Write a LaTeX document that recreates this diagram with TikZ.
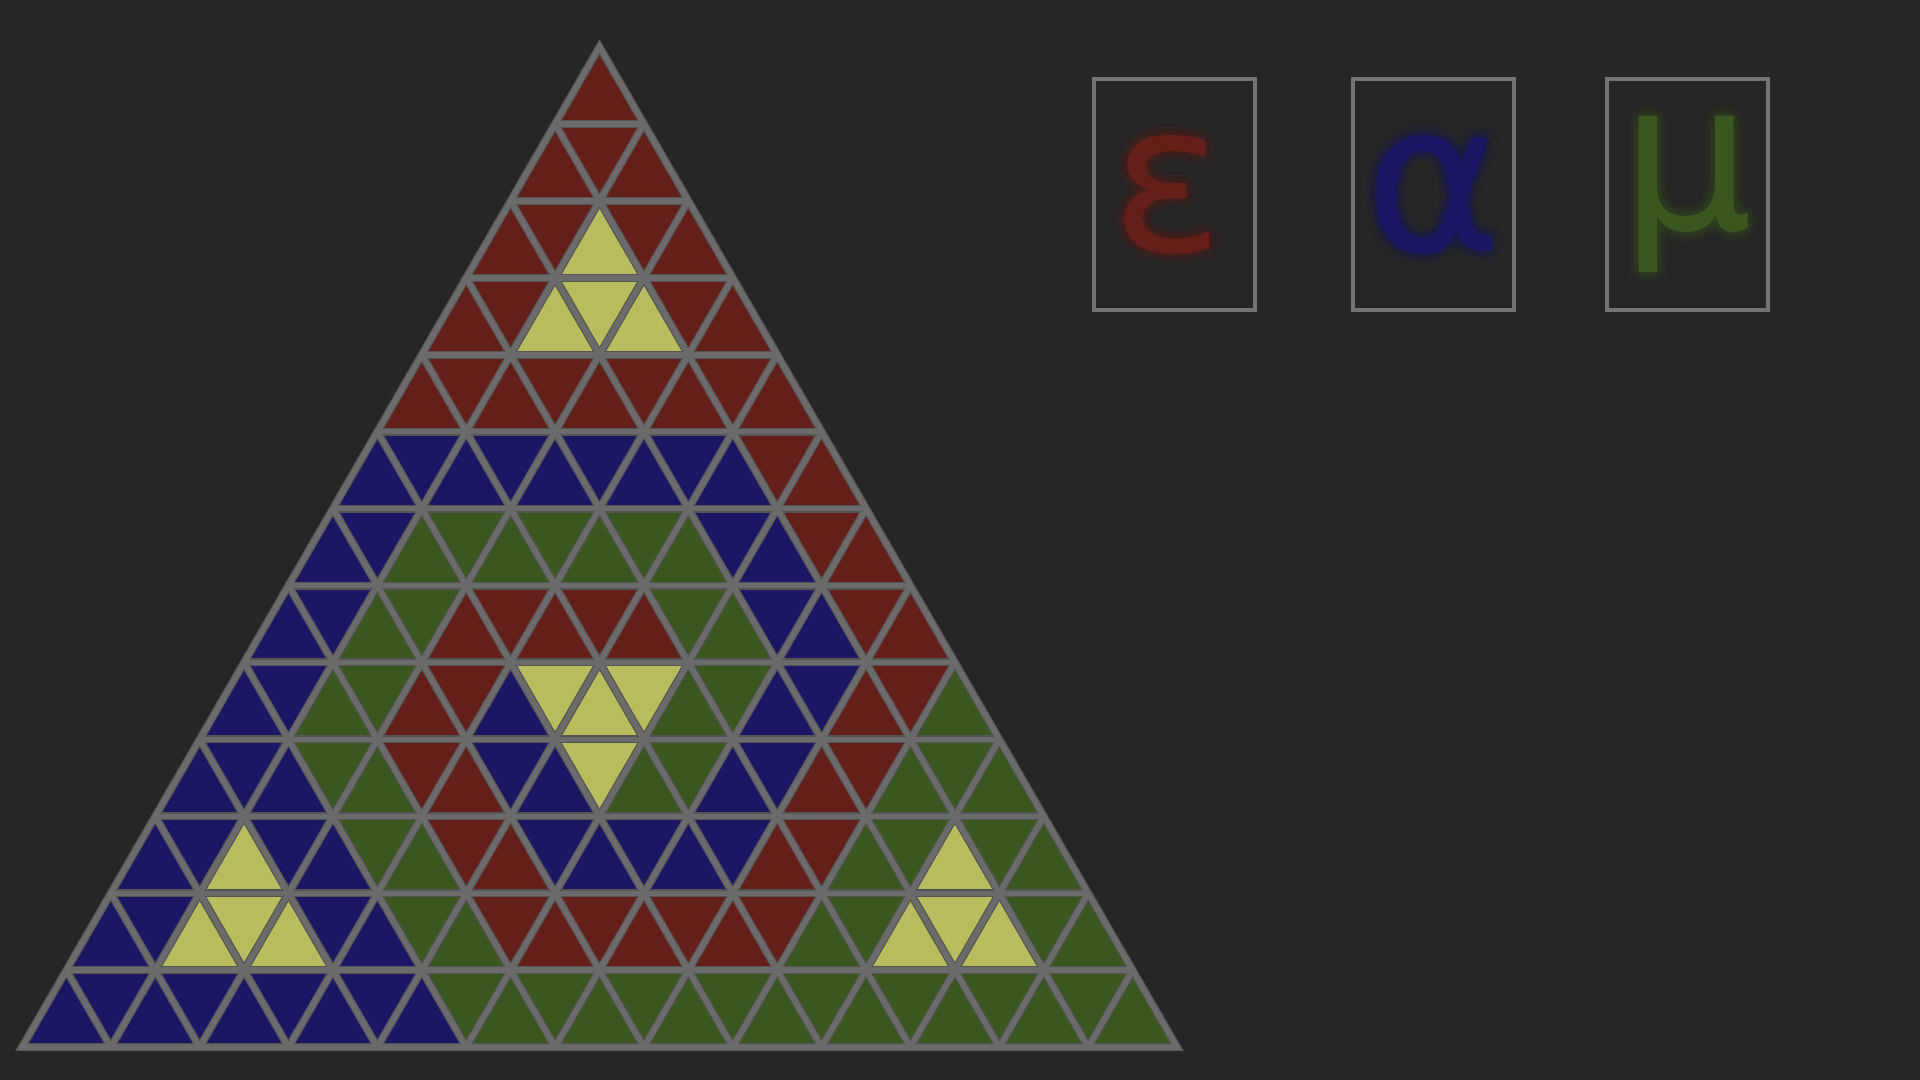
\documentclass[tikz,border=0pt]{standalone}
\usepackage{fontspec}
\newfontfamily\glyphfont{DejaVu Sans}
\definecolor{bg}{HTML}{262626}
\definecolor{rd}{HTML}{631F18}
\definecolor{bl}{HTML}{1B1765}
\definecolor{gr}{HTML}{3A571E}
\definecolor{yl}{HTML}{B8BC5C}
\definecolor{gridedge}{HTML}{555555}
\definecolor{gridline}{HTML}{6B6B6B}
\definecolor{boxgray}{HTML}{737373}
% one small triangle: row, position in row, colour
\newcommand{\celltri}[3]{%
  \pgfmathsetmacro{\cx}{\ax-(#1+1)*\sd/2+(#2/2+0.5)*\sd}%
  \pgfmathsetmacro{\yt}{\ay-#1*\rh}%
  \pgfmathsetmacro{\yb}{\yt-\rh}%
  \ifodd#2\relax
    \fill[#3] (\cx-\sd/2,\yt) -- (\cx+\sd/2,\yt) -- (\cx,\yb) -- cycle;
  \else
    \fill[#3] (\cx-\sd/2,\yb) -- (\cx+\sd/2,\yb) -- (\cx,\yt) -- cycle;
  \fi}
\begin{document}
\begin{tikzpicture}[
  glyphbox/.style={draw=boxgray,line width=0.045cm,minimum width=1.61cm,minimum height=2.31cm,inner sep=0pt},
  glow/.style={inner sep=0pt,font=\glyphfont\fontsize{59}{70}\selectfont,text opacity=0.06}]
  \useasboundingbox (0,0) rectangle (19.2,10.8);
  \fill[bg] (0,0) rectangle (19.2,10.8);
  \def\ax{5.995} \def\ay{10.33}
  \def\sd{0.8885} \def\rh{0.7694}
  \def\xo{0.2197} \def\yo{0.328}
  % rows from the top
  \foreach \c [count=\k from 0] in {rd} {\celltri{0}{\k}{\c}}
  \foreach \c [count=\k from 0] in {rd,rd,rd} {\celltri{1}{\k}{\c}}
  \foreach \c [count=\k from 0] in {rd,rd,yl,rd,rd} {\celltri{2}{\k}{\c}}
  \foreach \c [count=\k from 0] in {rd,rd,yl,yl,yl,rd,rd} {\celltri{3}{\k}{\c}}
  \foreach \c [count=\k from 0] in {rd,rd,rd,rd,rd,rd,rd,rd,rd} {\celltri{4}{\k}{\c}}
  \foreach \c [count=\k from 0] in {bl,bl,bl,bl,bl,bl,bl,bl,bl,rd,rd} {\celltri{5}{\k}{\c}}
  \foreach \c [count=\k from 0] in {bl,bl,gr,gr,gr,gr,gr,gr,gr,bl,bl,rd,rd} {\celltri{6}{\k}{\c}}
  \foreach \c [count=\k from 0] in {bl,bl,gr,gr,rd,rd,rd,rd,rd,gr,gr,bl,bl,rd,rd} {\celltri{7}{\k}{\c}}
  \foreach \c [count=\k from 0] in {bl,bl,gr,gr,rd,rd,bl,yl,yl,yl,gr,gr,bl,bl,rd,rd,gr} {\celltri{8}{\k}{\c}}
  \foreach \c [count=\k from 0] in {bl,bl,bl,gr,gr,rd,rd,bl,bl,yl,gr,gr,bl,bl,rd,rd,gr,gr,gr} {\celltri{9}{\k}{\c}}
  \foreach \c [count=\k from 0] in {bl,bl,yl,bl,bl,gr,gr,rd,rd,bl,bl,bl,bl,bl,rd,rd,gr,gr,yl,gr,gr} {\celltri{10}{\k}{\c}}
  \foreach \c [count=\k from 0] in {bl,bl,yl,yl,yl,bl,bl,gr,gr,rd,rd,rd,rd,rd,rd,rd,gr,gr,yl,yl,yl,gr,gr} {\celltri{11}{\k}{\c}}
  \foreach \c [count=\k from 0] in {bl,bl,bl,bl,bl,bl,bl,bl,bl,gr,gr,gr,gr,gr,gr,gr,gr,gr,gr,gr,gr,gr,gr,gr,gr} {\celltri{12}{\k}{\c}}
  % grid lines, dark edge first
  \foreach \w/\col in {0.08/gridedge,0.056/gridline} {
    \foreach \j in {1,...,12}
      \draw[line width=\w cm,\col] ({\xo+\j*\sd/2},{\yo+\j*\rh}) -- ({\xo+13*\sd-\j*\sd/2},{\yo+\j*\rh});
    \foreach \i in {1,...,12}
      \draw[line width=\w cm,\col] ({\xo+\i*\sd},\yo) -- ({\xo+\i*\sd+(13-\i)*\sd/2},{\yo+(13-\i)*\rh});
    \foreach \i in {1,...,12}
      \draw[line width=\w cm,\col] ({\xo+\i*\sd},\yo) -- ({\xo+\i*\sd/2},{\yo+\i*\rh});
    \draw[line width=\w cm,\col] (\xo,\yo) -- ({\xo+13*\sd},\yo) -- (\ax,\ay) -- cycle;
  }
  % letter boxes, with a soft glow behind each letter
  \foreach \r in {0.05,0.1} {
    \foreach \a in {0,30,...,330} {
      \node[glow,text=rd] (epsglow\r\a) at ([shift={(\a:\r)}]11.675,8.855) {ε};
      \node[glow,text=bl] (alphaglow\r\a) at ([shift={(\a:\r)}]14.335,8.855) {α};
      \node[glow,text=gr] (muglow\r\a) at ([shift={(\a:\r)}]16.875,8.855) {μ};
    }
  }
  \node[glyphbox] (epsbox) at (11.745,8.855) {};
  \node[glyphbox] (alphabox) at (14.335,8.855) {};
  \node[glyphbox] (mubox) at (16.875,8.855) {};
  \node[glow,text=rd,text opacity=1] (eps) at (11.675,8.855) {ε};
  \node[glow,text=bl,text opacity=1] (alpha) at (alphabox.center) {α};
  \node[glow,text=gr,text opacity=1] (mu) at (mubox.center) {μ};
\end{tikzpicture}
\end{document}
